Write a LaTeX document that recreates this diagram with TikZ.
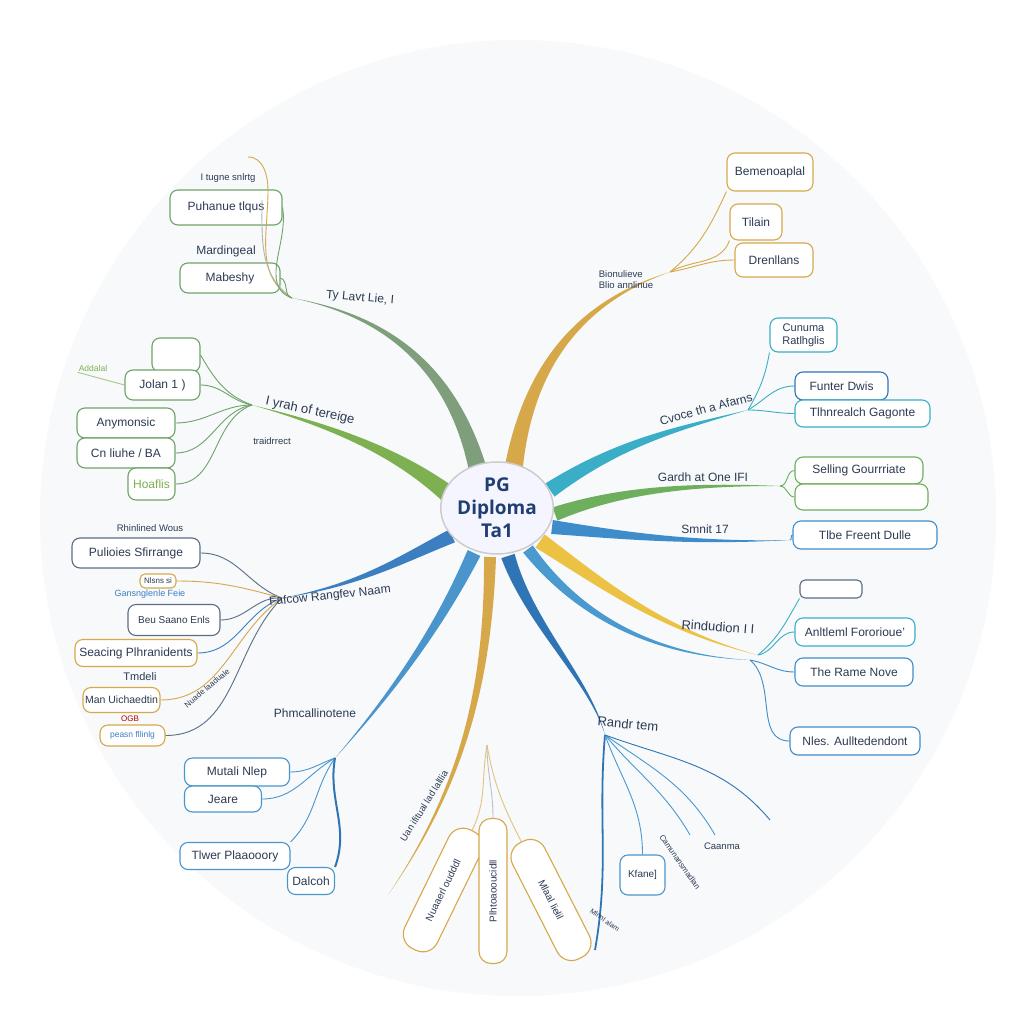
\documentclass[tikz,border=0pt]{standalone}
\usepackage{fontspec}
\setmainfont{Liberation Sans}
\newfontfamily\ctrfont{Open Sans}
\usetikzlibrary{calc,shapes.geometric}
\definecolor{ink}{HTML}{2C3A52}
\definecolor{bgc}{HTML}{F7F9FB}
\definecolor{sage}{HTML}{7E9E7C}
\definecolor{gbox}{HTML}{6FA36A}
\definecolor{goldc}{HTML}{D6A84A}
\definecolor{green2}{HTML}{7DB050}
\definecolor{tealc}{HTML}{3AAEC6}
\definecolor{green3}{HTML}{6DAF5C}
\definecolor{blue6}{HTML}{3F8CCB}
\definecolor{yelc}{HTML}{ECC245}
\definecolor{blue8}{HTML}{4A9AD0}
\definecolor{dblue}{HTML}{2F74B5}
\definecolor{blue11}{HTML}{4A95CC}
\definecolor{blue12}{HTML}{3C7FC0}
\definecolor{grayb}{HTML}{5A6E86}
\definecolor{ctrink}{HTML}{1F3F73}
\newcommand{\taper}[6]{%
  \fill[#1] ($(#2)!#6!90:(#3)$) .. controls ($(#3)!0.55*#6!90:(#4)$) and ($(#4)!0.25*#6!-90:(#3)$) .. (#5)
   .. controls ($(#4)!0.25*#6!90:(#3)$) and ($(#3)!0.55*#6!-90:(#4)$) .. ($(#2)!#6!-90:(#3)$) -- cycle;}
\tikzset{
 bx/.style={draw=#1, rounded corners=8pt, line width=1.1pt, fill=white, inner sep=0pt, text=ink, font=\fontsize{12}{14}\selectfont, align=center},
 tx/.style={text=ink, font=\fontsize{12}{14}\selectfont, inner sep=1pt},
 sm/.style={text=ink, font=\fontsize{9.5}{11}\selectfont, inner sep=1pt},
 lbl/.style={text=ink, font=\fontsize{13}{15}\selectfont, inner sep=1pt},
 cn/.style={draw=#1, line width=0.9pt},
}
\begin{document}
\begin{tikzpicture}[x=1pt,y=-1pt]
\useasboundingbox (0,0) rectangle (1024,1024);
\fill[white] (0,0) rectangle (1024,1024);
\fill[bgc] (518,518) circle (478);

% branch end coordinates
\coordinate (b1e) at (292,298);
\coordinate (b2e) at (670,272);
\coordinate (b3e) at (252,405);
\coordinate (b4e) at (748,410);
\coordinate (b5e) at (780,486);
\coordinate (b6e) at (790,540);
\coordinate (b7e) at (758,655);
\coordinate (b8e) at (750,660);
\coordinate (b9e) at (605,735);
\coordinate (b10e) at (388,895);
\coordinate (g) at (487,745);
\coordinate (b11e) at (335,758);
\coordinate (b12e) at (282,598);

% ---------- boxes ----------
\node[bx=gbox, minimum width=112, minimum height=35] (p) at (226,207.5) {Puhanue tlqus};
\node[bx=gbox, minimum width=100, minimum height=30] (mb) at (230,278) {Mabeshy};
\node[bx=gbox, minimum width=48, minimum height=34] (e1) at (176,355) {};
\node[bx=gbox, minimum width=75, minimum height=30] (jo) at (162.5,385) {Jolan 1 )};
\node[bx=gbox, minimum width=98, minimum height=30] (an) at (126,423) {Anymonsic};
\node[bx=gbox, minimum width=98, minimum height=30] (cl) at (126,453) {Cn liuhe / BA};
\node[bx=gbox, minimum width=47, minimum height=32, text=green2] (ho) at (151.5,484) {Hoaflis};

\node[bx=grayb, minimum width=128, minimum height=30] (pu) at (136,553) {Pulioies Sfirrange};
\node[bx=goldc, minimum width=36, minimum height=14, rounded corners=5pt, font=\fontsize{8}{9}\selectfont] (ns) at (158,581) {Nlsns si};
\node[bx=grayb, minimum width=92, minimum height=31, font=\fontsize{10}{12}\selectfont] (be) at (174,620) {Beu Saano Enls};
\node[bx=goldc, minimum width=122, minimum height=27] (sc) at (136,653) {Seacing Plhranidents};
\node[bx=goldc, minimum width=77, minimum height=25, font=\fontsize{10.5}{12}\selectfont] (ma) at (121.5,700) {Man Uichaedtin};
\node[bx=goldc, minimum width=65, minimum height=21, text=blue12, font=\fontsize{8.5}{10}\selectfont] (pe) at (132.5,735.5) {peasn fllinlg};

\node[bx=blue11, minimum width=105, minimum height=28] (mu) at (237,772) {Mutali Nlep};
\node[bx=blue11, minimum width=77, minimum height=26] (je) at (223,799) {Jeare};
\node[bx=blue11, minimum width=110, minimum height=27] (tw) at (235,856) {Tlwer Plaaooory};
\node[bx=blue11, minimum width=47, minimum height=27] (dc) at (311,881) {Dalcoh};

\node[bx=goldc, minimum width=132, minimum height=36, rounded corners=16pt, rotate=64, font=\fontsize{10}{12}\selectfont] (lb1) at (443,890) {Nuaaerl oudddl};
\node[bx=goldc, minimum width=145, minimum height=28, rounded corners=12pt, rotate=90, font=\fontsize{10}{12}\selectfont] (mb2) at (493,891) {Plhtoaooucidll};
\node[bx=goldc, minimum width=130, minimum height=36, rounded corners=16pt, rotate=-63, font=\fontsize{10}{12}\selectfont] (rb) at (551,900) {Mlaal lielil};

\node[bx=blue11, minimum width=45, minimum height=40, font=\fontsize{10}{12}\selectfont] (kf) at (642.5,875) {Kfane]};

\node[bx=goldc, minimum width=86, minimum height=38] (bm) at (770,172) {Bemenoaplal};
\node[bx=goldc, minimum width=52, minimum height=36] (ti) at (756,222) {Tilain};
\node[bx=goldc, minimum width=78, minimum height=34] (dr) at (774,260) {Drenllans};
\node[bx=tealc, minimum width=67, minimum height=34, font=\fontsize{11}{13}\selectfont] (cu) at (803.5,335) {Cunuma\\Ratlhglis};
\node[bx=dblue, minimum width=93, minimum height=28] (fu) at (841.5,386) {Funter Dwis};
\node[bx=tealc, minimum width=135, minimum height=27] (th) at (862.5,413.5) {Tlhnrealch Gagonte};
\node[bx=green3, minimum width=128, minimum height=27] (sg) at (859,470.5) {Selling Gourrriate};
\node[bx=green3, minimum width=133, minimum height=26] (em2) at (861.5,497) {};
\node[bx=blue6, minimum width=144, minimum height=28] (tf) at (865,535) {Tlbe Freent Dulle};
\node[bx=grayb, minimum width=62, minimum height=18, rounded corners=5pt] (smb) at (831,589) {};
\node[bx=tealc, minimum width=120, minimum height=28] (al) at (855,632) {Anltleml Fororioue'};
\node[bx=blue6, minimum width=118, minimum height=28] (rn) at (854,672) {The Rame Nove};
\node[bx=blue6, minimum width=130, minimum height=28] (nl) at (855,741) {Nles. Aulltedendont};

% ---------- branches ----------
\taper{sage}{478,470}{455,380}{400,318}{b1e}{9pt}
\taper{goldc}{514,466}{530,360}{585,300}{b2e}{9pt}
\taper{green2}{448,494}{400,455}{340,428}{b3e}{9pt}
\taper{tealc}{550,490}{620,442}{680,428}{b4e}{8pt}
\taper{green3}{555,514}{620,490}{690,484}{b5e}{7pt}
\taper{blue6}{552,527}{620,535}{690,544}{b6e}{7pt}
\taper{yelc}{540,541}{600,582}{660,630}{b7e}{8pt}
\taper{blue8}{528,549}{570,605}{640,655}{b8e}{6pt}
\taper{dblue}{508,556}{530,625}{590,680}{b9e}{7pt}
\taper{goldc}{490,557}{488,690}{460,790}{b10e}{6pt}
\taper{blue11}{474,553}{440,625}{395,690}{b11e}{7pt}
\taper{blue12}{452,536}{400,560}{360,585}{b12e}{7pt}

% connectors
\draw[cn=goldc] (b1e) to[out=150,in=-90] (268,190) to[out=90,in=0] (248,157);
\draw[cn=gray!60] (b1e) to[out=145,in=-90] (262,200);
\draw[cn=gbox] (b1e) to[out=160,in=-80] (p.east);
\draw[cn=gbox] (b1e) to[out=170,in=-20] (mb.east);

\draw[cn=gbox] (b3e) to[out=160,in=-60] (e1.east);
\draw[cn=gbox] (b3e) to[out=170,in=0] (jo.east);
\draw[cn=gbox] (b3e) to[out=180,in=0] (an.east);
\draw[cn=gbox] (b3e) to[out=190,in=0] (cl.east);
\draw[cn=gbox] (b3e) to[out=200,in=0] (ho.east);

\draw[cn=grayb] (b12e) to[out=160,in=0] (pu.east);
\draw[cn=goldc] (b12e) to[out=165,in=0] (ns.east);
\draw[cn=grayb] (b12e) to[out=175,in=0] (be.east);
\draw[cn=blue12] (b12e) to[out=200,in=0] (sc.east);
\draw[cn=goldc] (b12e) to[out=215,in=0] (ma.east);
\draw[cn=grayb] (b12e) to[out=225,in=0] (pe.east);

\draw[cn=blue11] (b11e) to[out=200,in=0] (mu.east);
\draw[cn=blue11] (b11e) to[out=210,in=0] (je.east);
\draw[cn=blue11] (b11e) to[out=235,in=45] (tw.north east);
\draw[cn=dblue, line width=2pt] (b11e) to[out=260,in=70] (dc.north east);

\draw[cn=goldc!70] (g) to[out=-100,in=64] (lb1.east);
\draw[cn=gray!50] (g) to[out=-90,in=90] (mb2.east);
\draw[cn=goldc!70] (g) to[out=-80,in=117] (rb.west);

\draw[cn=dblue, line width=1.8pt] (b9e) to[out=-95,in=80] (595,950);
\draw[cn=blue8] (b9e) to[out=-70,in=90] (kf.north);
\draw[cn=blue8] (b9e) to[out=-50,in=120] (690,835);
\draw[cn=blue8] (b9e) to[out=-35,in=120] (715,835);
\draw[cn=dblue] (b9e) to[out=-20,in=130] (770,820);

\draw[cn=goldc] (b2e) to[out=40,in=-115] (bm.south west);
\draw[cn=goldc] (b2e) to[out=30,in=-110] (ti.south west);
\draw[cn=goldc] (b2e) to[out=10,in=180] (dr.west);

\draw[cn=tealc] (b4e) to[out=60,in=-100] (cu.south west);
\draw[cn=tealc] (b4e) to[out=30,in=180] (fu.west);
\draw[cn=tealc] (b4e) to[out=0,in=180] (th.west);
\draw[cn=green3] (b5e) to[out=0,in=180] (sg.west);
\draw[cn=green3] (b5e) to[out=0,in=180] (em2.west);
\draw[cn=blue6] (b6e) to[out=0,in=180] (tf.west);
\draw[cn=tealc] (b7e) to[out=40,in=-120] (smb.south west);
\draw[cn=tealc] (b7e) to[out=10,in=180] (al.west);
\draw[cn=blue6] (b8e) to[out=-10,in=180] (rn.west);
\draw[cn=blue6] (b8e) to[out=-40,in=180] (nl.west);

% ---------- labels ----------
\node[sm] (t1) at (228,178) {I tugne snlrtg};
\node[tx] (t2) at (226,251) {Mardingeal};
\node[tx, rotate=-5] (t3) at (360,298) {Ty Lavt Lie, I};
\node[sm, text=green2, font=\fontsize{8.5}{10}\selectfont] (ad) at (93,368) {Addalal};
\draw[cn=green2!70] (ad.south west) -- (jo.west);
\node[lbl, rotate=-12] (t4) at (310,411) {I yrah of tereige};
\node[sm] (t5) at (272,441) {traidrrect};
\node[sm] (t6) at (150,528) {Rhinlined Wous};
\node[sm, text=blue12, font=\fontsize{9}{10}\selectfont] (t7) at (150,594) {Gansnglenle Feie};
\node[tx, font=\fontsize{11}{13}\selectfont] (t8) at (140,677) {Tmdeli};
\node[sm, text=red!70!black, font=\fontsize{8}{9}\selectfont] (t9) at (130,719) {OGB};
\node[sm, rotate=40, font=\fontsize{8}{9}\selectfont] (t10) at (207,688) {Nuade laaduale};
\node[tx, rotate=6] (t11) at (330,596) {Fafcow Rangfev Naam};
\node[tx] (t12) at (315,713) {Phmcallinotene};
\node[sm, rotate=58] (t13) at (424,806) {Uan ifitual lad lalllia};
\node[sm, align=left] (t14) at (626,280) {Bionulieve\\Blio annlinue};
\node[tx, rotate=15] (t15) at (706,409) {Cvoce th a Afarns};
\node[tx] (t16) at (703,477) {Gardh at One IFI};
\node[tx] (t17) at (705,529) {Smnit 17};
\node[lbl, rotate=-4] (t18) at (718,627) {Rindudion I I};
\node[lbl, rotate=-5] (t19) at (628,724) {Randr tem};
\node[sm] (t20) at (722,846) {Caanma};
\node[sm, rotate=-55, font=\fontsize{8}{9}\selectfont] (t21) at (680,862) {Camunansmadlan};
\node[sm, rotate=-35, font=\fontsize{7}{8}\selectfont] (t22) at (605,920) {Mlnnl alam};

% ---------- centre ----------
\node[ellipse, draw=gray!40, line width=1.5pt, fill=blue!4, minimum width=112, minimum height=92, inner sep=0pt, align=center, text=ctrink, font=\ctrfont\bfseries\fontsize{19}{23}\selectfont] (ctr) at (497,508) {PG\\Diploma\\Ta1};
\end{tikzpicture}
\end{document}
